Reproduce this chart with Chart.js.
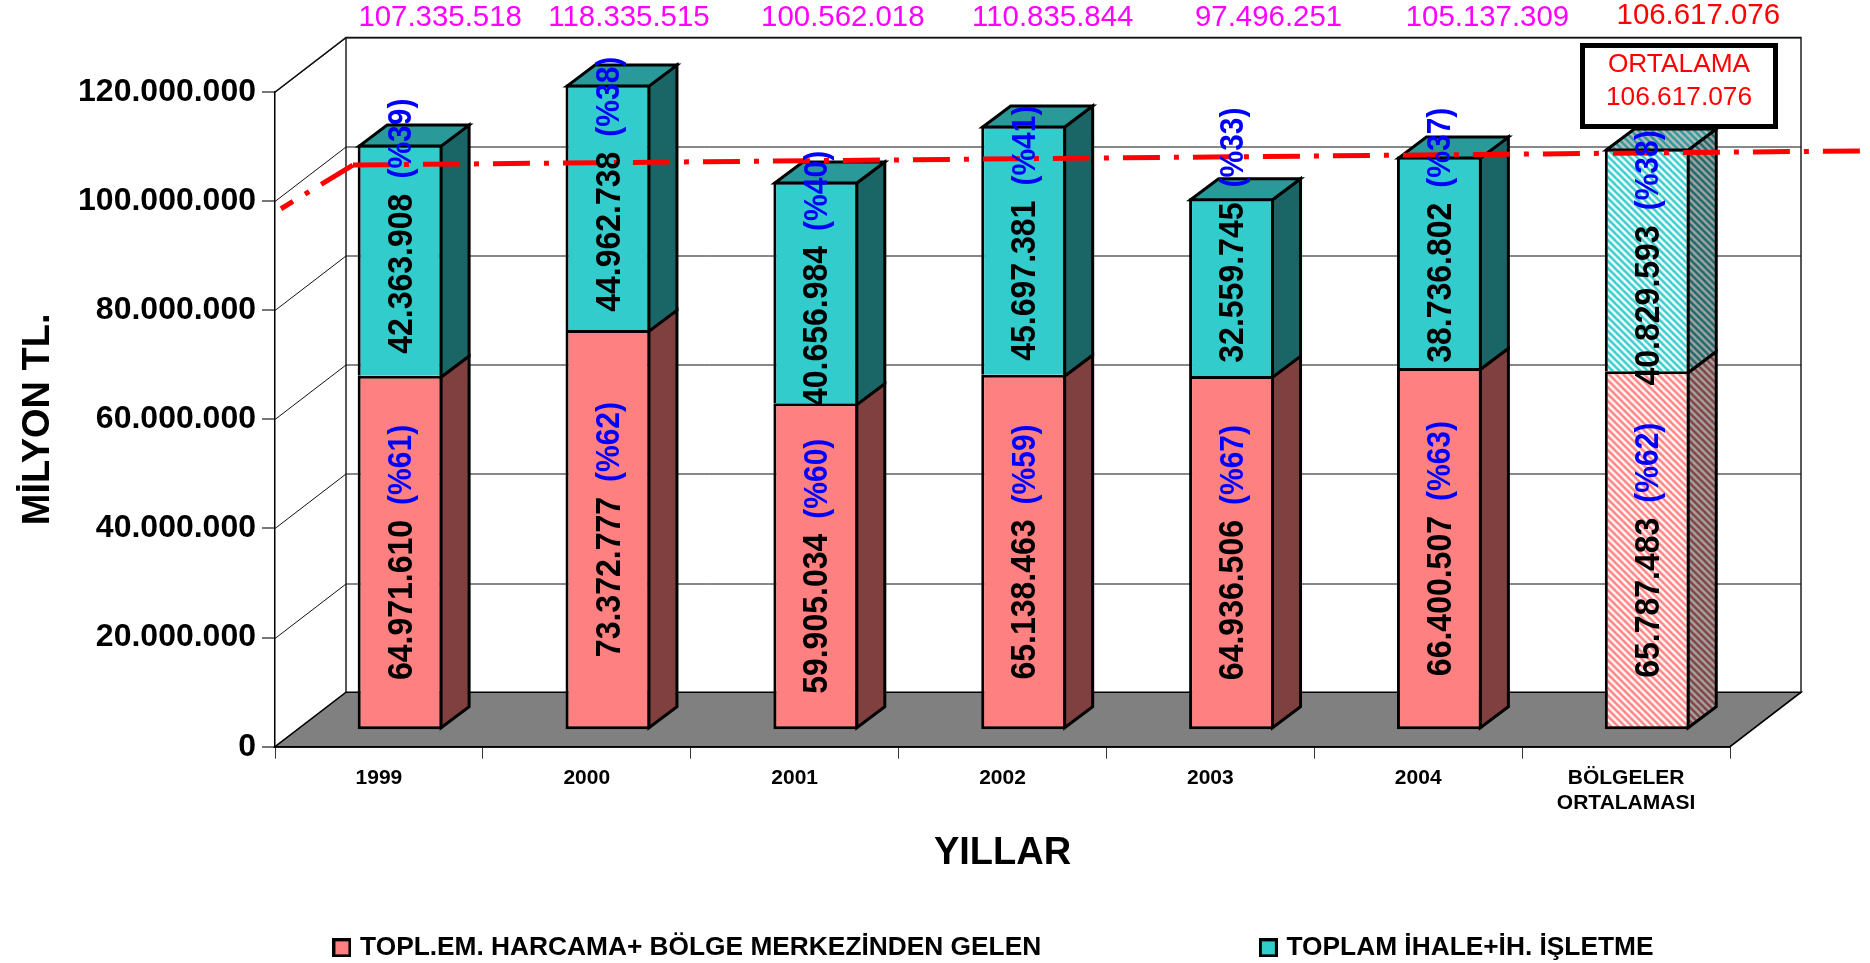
<!DOCTYPE html>
<html><head><meta charset="utf-8">
<style>html,body{margin:0;padding:0;background:#fff}#w{width:1870px;height:963px;position:relative}</style>
<script src="https://cdn.jsdelivr.net/npm/chart.js@4/dist/chart.umd.min.js"></script>
</head><body><div id="w"><canvas id="c" width="1870" height="963"></canvas></div>
<script>
const categories = ['1999','2000','2001','2002','2003','2004',['BÖLGELER','ORTALAMASI']];
const harcamaValues = [64971610,73372777,59905034,65138463,64936506,66400507,65787483];
const ihaleValues = [42363908,44962738,40656984,45697381,32559745,38736802,40829593];
const harcamaPct = [61,62,60,59,67,63,62];
const ihalePct = [39,38,40,41,33,37,38];
const totals = ['107.335.518','118.335.515','100.562.018','110.835.844','97.496.251','105.137.309','106.617.076'];
const harcamaName = 'TOPL.EM. HARCAMA+ BÖLGE MERKEZİNDEN GELEN';
const ihaleName = 'TOPLAM İHALE+İH. İŞLETME';
const averageName = 'ORTALAMA';
const averageText = '106.617.076';
const averageLine = [{x:-0.471,y:98600000},{x:-0.125,y:106617076},{x:7.125,y:109200000}];

// layout-only constants
const FONT = '"Liberation Sans", Arial, sans-serif';
const WALL = {dx:71, dy:54.5};
const BAR = {dx:21.2, dy:-16.5, sideX:28, sideY:21};
const totalNudge = [40,21,27,29,37,48,51];
const ihaleLabelLift = [34,23,14,17,52,27,2];

function stripes(a,b){
  const s=7,t=document.createElement('canvas');t.width=t.height=s;
  const g=t.getContext('2d');g.fillStyle=b;g.fillRect(0,0,s,s);
  g.strokeStyle=a;g.lineWidth=2.6;
  [-s,0,s].forEach(o=>{g.beginPath();g.moveTo(o-1,-1);g.lineTo(o+s+1,s+1);g.stroke();});
  return document.getElementById('c').getContext('2d').createPattern(t,'repeat');
}
function swatch(color){
  const t=document.createElement('canvas');t.width=19;t.height=19;
  const g=t.getContext('2d');g.fillStyle=color;g.fillRect(0,0,19,19);
  g.strokeStyle='#000';g.lineWidth=3;g.strokeRect(1.5,1.5,16,16);
  return t;
}
const face = {
  pink:{front:'#FF8080',side:'#804040',top:'#CC6666',
        hFront:stripes('#FF8080','#ffffff'),hSide:stripes('#804040','#a8a8a8'),hTop:stripes('#CC6666','#bbbbbb')},
  teal:{front:'#33CCCC',side:'#1A6666',top:'#299999',
        hFront:stripes('#33CCCC','#ffffff'),hSide:stripes('#1A6666','#a8a8a8'),hTop:stripes('#299999','#c0c0c0')}
};
const last = categories.length-1;
const fmt = v => String(v).replace(/\B(?=(\d{3})+(?!\d))/g,'.');

const scene = {
  id:'scene',
  beforeDatasetsDraw(chart){
    const {ctx,chartArea:a,scales:{y}}=chart;
    const L=a.left,R=a.right,B=a.bottom,T=a.top,dx=WALL.dx,dy=WALL.dy;
    ctx.save();
    ctx.strokeStyle='#111';ctx.lineWidth=1;
    y.ticks.forEach(t=>{
      const p=Math.round(y.getPixelForValue(t.value))+.5;
      ctx.beginPath();ctx.moveTo(L,p);ctx.lineTo(L+dx,p-dy);ctx.lineTo(R+dx,p-dy);ctx.stroke();
    });
    ctx.lineWidth=1.4;
    ctx.beginPath();ctx.moveTo(L,T);ctx.lineTo(L+dx,T-dy);ctx.lineTo(R+dx,T-dy);ctx.lineTo(R+dx,B-dy);ctx.stroke();
    ctx.beginPath();ctx.moveTo(L+dx,T-dy);ctx.lineTo(L+dx,B-dy);ctx.stroke();
    ctx.fillStyle='#808080';ctx.strokeStyle='#000';ctx.lineWidth=1.6;
    ctx.beginPath();ctx.moveTo(L,B);ctx.lineTo(R,B);ctx.lineTo(R+dx,B-dy);ctx.lineTo(L+dx,B-dy);ctx.closePath();ctx.fill();ctx.stroke();
    ctx.restore();
  },
  beforeDatasetDraw(chart,args){
    if(args.meta.type!=='bar')return;
    chart.ctx.save();chart.ctx.translate(BAR.dx,BAR.dy);
  },
  afterDatasetDraw(chart,args){
    if(args.meta.type!=='bar')return;
    const ctx=chart.ctx,f=args.index===0?face.pink:face.teal;
    const isTop=args.index===1,sx=BAR.sideX,sy=BAR.sideY;
    args.meta.data.forEach((el,i)=>{
      const r=el.x+el.width/2-1.5,l=el.x-el.width/2+1.5,t=el.y+1.5,b=isTop?el.base+1.5:el.base-1.5;
      ctx.strokeStyle='#000';ctx.lineWidth=3;ctx.lineJoin='miter';
      ctx.fillStyle=i===last?f.hSide:f.side;
      ctx.beginPath();ctx.moveTo(r,t);ctx.lineTo(r+sx,t-sy);ctx.lineTo(r+sx,b-sy);ctx.lineTo(r,b);ctx.closePath();ctx.fill();ctx.stroke();
      if(isTop){
        ctx.fillStyle=i===last?f.hTop:f.top;
        ctx.beginPath();ctx.moveTo(l,t);ctx.lineTo(l+sx,t-sy);ctx.lineTo(r+sx,t-sy);ctx.lineTo(r,t);ctx.closePath();ctx.fill();ctx.stroke();
      }
    });
    ctx.restore();
  },
  afterDatasetsDraw(chart){
    const ctx=chart.ctx;
    ctx.save();
    const barLabel=(el,val,pct,lift)=>{
      const num=fmt(val),p='(%'+pct+')';
      ctx.font='bold 32px '+FONT;const w1=ctx.measureText(num).width;
      ctx.font='bold 30px '+FONT;const w2=ctx.measureText(p).width;
      const gap=15,W=w1+gap+w2;
      const cy=(el.y+el.base)/2-lift;
      ctx.save();ctx.translate(el.x+1,cy);ctx.rotate(-Math.PI/2);ctx.scale(1,1.08);
      ctx.textAlign='left';ctx.textBaseline='middle';
      ctx.font='bold 32px '+FONT;ctx.fillStyle='#000';ctx.fillText(num,-W/2,1);
      ctx.font='bold 30px '+FONT;ctx.fillStyle='#0000FF';ctx.fillText(p,-W/2+w1+gap,1);
      ctx.restore();
    };
    ctx.save();ctx.translate(BAR.dx,BAR.dy);
    chart.getDatasetMeta(0).data.forEach((el,i)=>barLabel(el,harcamaValues[i],harcamaPct[i],0));
    chart.getDatasetMeta(1).data.forEach((el,i)=>barLabel(el,ihaleValues[i],ihalePct[i],ihaleLabelLift[i]));
    ctx.restore();
    ctx.font='29.4px '+FONT;ctx.textAlign='center';ctx.textBaseline='middle';
    chart.getDatasetMeta(0).data.forEach((el,i)=>{
      ctx.fillStyle=i===last?'#FF0000':'#FF00FF';
      ctx.fillText(totals[i],el.x+BAR.dx+totalNudge[i],i===last?16:18);
    });
    // average call-out box
    ctx.fillStyle='#fff';ctx.fillRect(1582,45,194,82);
    ctx.strokeStyle='#000';ctx.lineWidth=5;ctx.strokeRect(1582.5,45.5,193,81);
    ctx.fillStyle='#FF0000';ctx.font='26.3px '+FONT;
    ctx.fillText(averageName,1679,64.5);ctx.fillText(averageText,1679,98);
    ctx.restore();
  }
};

new Chart(document.getElementById('c'),{
  data:{labels:categories,datasets:[
    {type:'bar',label:harcamaName,data:harcamaValues,order:1,xAxisID:'x',yAxisID:'y',
     backgroundColor:ctx=>ctx.dataIndex===last?face.pink.hFront:face.pink.front,
     borderColor:'#000',borderWidth:3,borderSkipped:false,categoryPercentage:1,barPercentage:85/208},
    {type:'bar',label:ihaleName,data:ihaleValues,order:2,xAxisID:'x',yAxisID:'y',
     backgroundColor:ctx=>ctx.dataIndex===last?face.teal.hFront:face.teal.front,
     borderColor:'#000',borderWidth:3,borderSkipped:'bottom',categoryPercentage:1,barPercentage:85/208},
    {type:'line',label:averageName,data:averageLine,order:0,xAxisID:'x',yAxisID:'y2',clip:false,parsing:false,
     borderColor:'#FF0000',borderWidth:5,borderDash:[37,14,5,14],pointRadius:0,tension:0,fill:false,
     segment:{borderDashOffset:c=>c.p0DataIndex===0?23:0}}
  ]},
  options:{
    responsive:false,animation:false,
    layout:{padding:{top:92,right:140,left:0,bottom:-8}},
    plugins:{
      tooltip:{enabled:false},title:{display:false},
      legend:{
        position:'bottom',fullSize:false,
        labels:{
          color:'#000',font:{family:FONT,size:26.3,weight:'bold'},boxWidth:19,boxHeight:19,padding:3,
          usePointStyle:true,pointStyleWidth:10,
          generateLabels(){
            return [
              {text:harcamaName+'\u00A0'.repeat(30),fillStyle:'#FF8080',strokeStyle:'#000',lineWidth:3,datasetIndex:0,pointStyle:swatch('#FF8080')},
              {text:ihaleName+'\u00A0'.repeat(2),fillStyle:'#33CCCC',strokeStyle:'#000',lineWidth:3,datasetIndex:1,pointStyle:swatch('#33CCCC')}
            ];
          }
        }
      }
    },
    scales:{
      x:{
        type:'category',stacked:true,offset:true,
        afterFit(s){s.height=185;},
        grid:{offset:true,drawOnChartArea:false,color:'#333',tickLength:12,drawTicks:true},
        border:{color:'#333',width:2},
        ticks:{color:'#000',font:{family:FONT,size:21,weight:'bold'},padding:7,maxRotation:0,autoSkip:false},
        title:{display:true,text:'YILLAR',color:'#000',font:{family:FONT,size:38,weight:'bold'},padding:{top:0,bottom:55}}
      },
      y2:{display:false,min:0,max:120000000,stacked:false},
      y:{
        stacked:true,min:0,max:120000000,
        afterFit(s){s.width=275;},
        grid:{drawOnChartArea:false,color:'#777',tickLength:13,lineWidth:2},
        border:{color:'#000',width:1.5},
        ticks:{stepSize:20000000,color:'#000',font:{family:FONT,size:32,weight:'bold'},padding:6,callback:v=>fmt(v)},
        title:{display:true,text:'MİLYON TL.',color:'#000',font:{family:FONT,size:38,weight:'bold'},padding:{top:16,bottom:0}}
      }
    }
  },
  plugins:[scene]
});
</script></body></html>
